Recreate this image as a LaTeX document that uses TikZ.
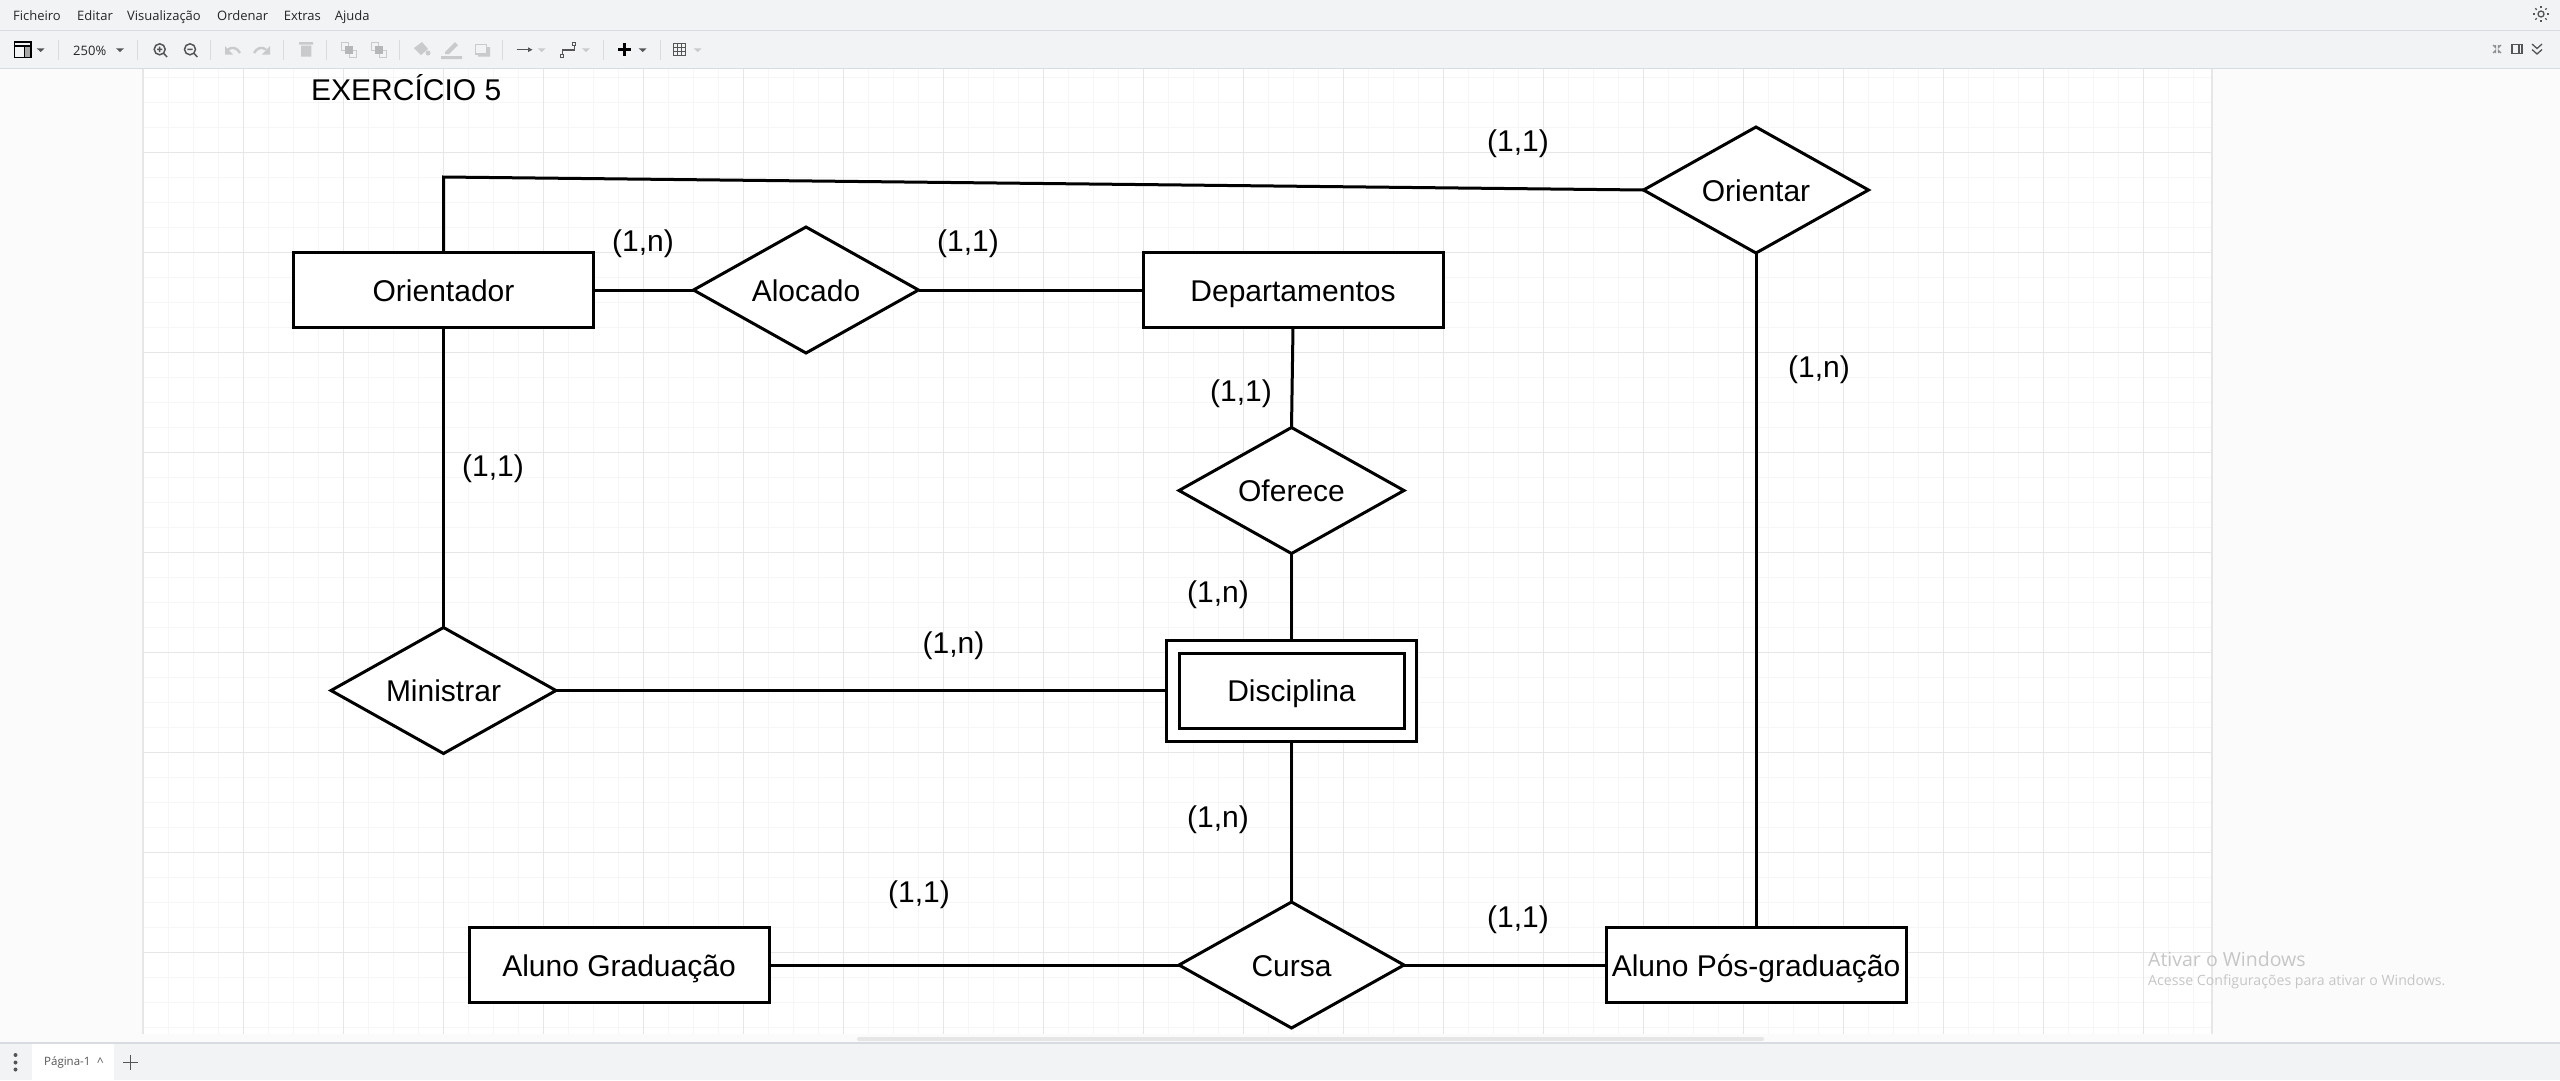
\documentclass[tikz,border=0pt]{standalone}
\usepackage{fontspec}
\setmainfont{Liberation Sans}
\newfontfamily\uifont{Open Sans}
\usetikzlibrary{shapes.geometric}
\definecolor{barbg}{HTML}{F1F3F5}
\definecolor{barline}{HTML}{D8DBDF}
\definecolor{panelbg}{HTML}{FBFBFB}
\definecolor{gridmaj}{HTML}{E6E6E6}
\definecolor{gridmin}{HTML}{F6F6F6}
\definecolor{icondark}{HTML}{555555}
\definecolor{iconoff}{HTML}{C8CACC}
\definecolor{wmark}{HTML}{C6C6C6}
\tikzset{
  bigtext/.style={text height=25.5pt,text depth=3.5pt,font=\fontsize{30}{36}\selectfont},
  entity/.style={draw=black,fill=white,line width=3pt,minimum width=300pt,minimum height=75pt,inner sep=0pt,outer sep=0pt,bigtext},
  relation/.style={draw=black,fill=white,line width=3pt,shape=diamond,shape aspect=1.786,minimum width=225pt,minimum height=126pt,inner sep=0pt,outer sep=0pt,bigtext},
  card/.style={inner sep=0pt,bigtext},
  link/.style={line width=3pt,draw=black},
  menuitem/.style={anchor=west,inner sep=0pt,text=black!85,text height=10pt,text depth=3pt,font=\uifont\fontsize{13}{16}\selectfont},
  sepline/.style={draw=barline,line width=1pt},
  tri/.style={fill=icondark},
  trioff/.style={fill=iconoff}
}
\begin{document}
\begin{tikzpicture}[x=1pt,y=-1pt]
\useasboundingbox (0,0) rectangle (2560,1080);
% chrome
\fill[panelbg] (0,0) rectangle (2560,1080);
\fill[barbg] (0,0) rectangle (2560,68.5);
\draw[barline,line width=1.4pt] (0,30.5) -- (2560,30.5);
\draw[barline,line width=1.4pt] (0,68.5) -- (2560,68.5);
% canvas
\fill[white] (143,69) rectangle (2211,1034);
\begin{scope}
\clip (143,69) rectangle (2211,1034);
\foreach \k in {0,...,88}{\draw[gridmin,line width=1pt] ({43.5+25*\k},69) -- ({43.5+25*\k},1034);}
\foreach \k in {0,...,40}{\draw[gridmin,line width=1pt] (143,{52.3+25*\k}) -- (2211,{52.3+25*\k});}
\foreach \k in {1,...,21}{\draw[gridmaj,line width=1pt] ({43.5+100*\k},69) -- ({43.5+100*\k},1034);}
\foreach \k in {1,...,9}{\draw[gridmaj,line width=1pt] (143,{52.3+100*\k}) -- (2211,{52.3+100*\k});}
\end{scope}
\draw[gridmaj,line width=1.4pt] (142.5,69) -- (142.5,1034);
\draw[gridmaj,line width=1.4pt] (2212,69) -- (2212,1034);
% scrollbar and bottom bar
\fill[gridmaj,rounded corners=2pt] (857,1037) rectangle (1764,1041);
\fill[barbg] (0,1043) rectangle (2560,1080);
\draw[barline,line width=1.2pt] (0,1043) -- (2560,1043);
\fill[white] (31.6,1044) rectangle (114,1080);
\fill[icondark] (15.5,1055) circle (2pt) (15.5,1062.5) circle (2pt) (15.5,1069.5) circle (2pt);
\node[anchor=west,inner sep=0pt,text=icondark,font=\uifont\fontsize{11.5}{14}\selectfont] (tabname) at (44,1062.5) {Página-1};
\node[anchor=west,inner sep=0pt,text=icondark,font=\uifont\fontsize{12}{14}\selectfont] (tabcaret) at (97,1062.5) {\^{}};
\draw[icondark,line width=1.5pt] (123,1062.5) -- (138,1062.5) (130.5,1055) -- (130.5,1070);
% menu
\node[menuitem] (mFicheiro) at (13,16.7) {Ficheiro};
\node[menuitem] (mEditar) at (77,16.7) {Editar};
\node[menuitem] (mVis) at (127,16.7) {Visualização};
\node[menuitem] (mOrd) at (217,16.7) {Ordenar};
\node[menuitem] (mExt) at (283.6,16.7) {Extras};
\node[menuitem] (mAju) at (334.7,16.7) {Ajuda};
% toolbar separators
\foreach \s in {58.3,137,210.7,283.6,326.6,399.3,502.7,603.3,660.3}{\draw[sepline] (\s,40) -- (\s,59.5);}
% layout icon
\fill[gray!70] (24.5,46) rectangle (31,57.5);
\draw[black,line width=1.3pt] (14.5,42) rectangle (31,57.5);
\draw[black,line width=1.1pt] (14.5,46) -- (31,46) (24.5,46) -- (24.5,57.5);
\fill[tri] (36.7,48.3) -- (44.7,48.3) -- (40.7,52) -- cycle;
\node[menuitem] (zoomlevel) at (73,52) {250\%};
\fill[tri] (116,48.3) -- (124,48.3) -- (120,52) -- cycle;
% zoom icons
\draw[icondark,line width=1.5pt] (159.7,49.3) circle (5.5pt) (163.7,53.3) -- (167,57) (157,49.3) -- (162.4,49.3) (159.7,46.6) -- (159.7,52);
\draw[icondark,line width=1.5pt] (190,49.3) circle (5.5pt) (194,53.3) -- (197.3,57) (187.3,49.3) -- (192.7,49.3);
% undo, redo, delete
\draw[iconoff,line width=2.4pt] (228,49.5) .. controls (232,46.5) and (237,47.5) .. (240,53);
\fill[iconoff] (225,54.5) -- (225,46) -- (233,54.5) -- cycle;
\draw[iconoff,line width=2.4pt] (266,49.5) .. controls (262,46.5) and (257,47.5) .. (254,53);
\fill[iconoff] (270,54.5) -- (270,46) -- (262,54.5) -- cycle;
\fill[iconoff] (301,45.7) rectangle (311.3,56.7) (299,42) rectangle (313,44.7);
% front, back
\draw[iconoff,line width=1pt] (341,42.5) rectangle (348,50) (349,50) rectangle (356,57);
\fill[iconoff!90!black] (345,46) rectangle (352.7,54);
\draw[iconoff,line width=1pt] (371,42.5) rectangle (378,50) (379,50) rectangle (386,57);
\fill[iconoff!90!black] (375,46) rectangle (382.7,54);
% fill, line, shadow
\fill[iconoff] (414,48) -- (422,42) -- (428,49) -- (421,55) -- cycle;
\fill[iconoff] (428,53) circle (2.5pt);
\fill[iconoff] (445,52) -- (455,42) -- (458,45) -- (449,54) -- (445,54) -- cycle (441,56) rectangle (462,59);
\draw[iconoff,line width=1.4pt] (475.5,44.5) rectangle (486.5,54);
\fill[iconoff] (478,54.5) rectangle (490,56.7) (487,47) rectangle (490,56.7);
% connection, waypoints
\draw[icondark,line width=1.2pt] (516.7,49.7) -- (530,49.7);
\fill[icondark] (532.5,49.7) -- (528,47.3) -- (528,52.1) -- cycle;
\fill[trioff] (537.7,48.3) -- (545.7,48.3) -- (541.7,52) -- cycle;
\draw[icondark,line width=1.1pt] (562.3,55) -- (562.3,50) -- (574.3,50) -- (574.3,45);
\draw[icondark,line width=1pt,fill=barbg] (560.8,54.5) rectangle (563.8,57.5) (572.8,42.8) rectangle (575.8,45.8);
\fill[trioff] (582,48.3) -- (590,48.3) -- (586,52) -- cycle;
% plus
\draw[black,line width=3.3pt] (618,49.7) -- (631,49.7) (624.5,43.3) -- (624.5,55.7);
\fill[tri] (638.7,48.3) -- (646.7,48.3) -- (642.7,52) -- cycle;
% table
\draw[icondark,line width=1pt] (673.3,43.3) rectangle (685.3,55.7)
  (677.3,43.3) -- (677.3,55.7) (681.3,43.3) -- (681.3,55.7) (673.3,47.4) -- (685.3,47.4) (673.3,51.5) -- (685.3,51.5);
\fill[trioff] (693.7,48.3) -- (701.7,48.3) -- (697.7,52) -- cycle;
% right icons
\draw[icondark,line width=1.3pt] (2541,14) circle (3pt);
\foreach \a in {0,45,...,315}{\draw[icondark,line width=1.2pt] ({2541+6*cos(\a)},{14+6*sin(\a)}) -- ({2541+8*cos(\a)},{14+8*sin(\a)});}
\draw[iconoff!70!black,line width=1.3pt] (2493,45) -- (2495.5,47.5) -- (2495.5,45) (2501,45) -- (2498.5,47.5) -- (2498.5,45) (2493,53) -- (2495.5,50.5) -- (2495.5,53) (2501,53) -- (2498.5,50.5) -- (2498.5,53);
\draw[icondark,line width=1.3pt] (2512,44.5) rectangle (2522,53.5) (2519,44.5) -- (2519,53.5);
\draw[icondark,line width=1.3pt] (2532,44) -- (2537,48.5) -- (2542,44) (2532,49.5) -- (2537,54) -- (2542,49.5);
% watermark
\node[anchor=west,inner sep=0pt,text=wmark,font=\uifont\fontsize{19.5}{24}\selectfont] (wm1) at (2148,959) {Ativar o Windows};
\node[anchor=west,inner sep=0pt,text=wmark,font=\uifont\fontsize{14.15}{18}\selectfont] (wm2) at (2148,981.7) {Acesse Configurações para ativar o Windows.};
% title
\node[anchor=west,inner sep=0pt,bigtext] (title) at (311,89.5) {EXERCÍCIO 5};
% entities
\node[entity] (orientador) at (443.5,290) {Orientador};
\node[entity] (departamentos) at (1293,290) {Departamentos};
\node[entity] (graduacao) at (619,965) {Aluno Graduação};
\node[entity] (posgrad) at (1756,965) {Aluno Pós-graduação};
% weak entity
\node[entity,minimum width=250pt,minimum height=101pt] (disciplinaout) at (1291.5,690.5) {};
\node[entity,minimum width=225pt,minimum height=75pt] (disciplina) at (1291.5,690.5) {Disciplina};
% relations
\node[relation] (alocado) at (806,290) {Alocado};
\node[relation] (orientar) at (1756,190) {Orientar};
\node[relation] (oferece) at (1291.5,490.5) {Oferece};
\node[relation] (ministrar) at (443.5,690.5) {Ministrar};
\node[relation] (cursa) at (1291.5,965) {Cursa};
% connectors
\coordinate (bend) at (443.5,177);
\draw[link] (orientador.north) -- (bend) -- (orientar.west);
\draw[link] (orientador.east) -- (alocado.west);
\draw[link] (alocado.east) -- (departamentos.west);
\draw[link] (orientador.south) -- (ministrar.north);
\draw[link] (departamentos.south) -- (oferece.north);
\draw[link] (oferece.south) -- (disciplinaout.north);
\draw[link] (ministrar.east) -- (disciplinaout.west);
\draw[link] (disciplinaout.south) -- (cursa.north);
\draw[link] (graduacao.east) -- (cursa.west);
\draw[link] (cursa.east) -- (posgrad.west);
\draw[link] (orientar.south) -- (posgrad.north);
% cardinalities
\node[card] (c1) at (643,240) {(1,n)};
\node[card] (c2) at (968,240) {(1,1)};
\node[card] (c3) at (1518,140) {(1,1)};
\node[card] (c4) at (1819,366) {(1,n)};
\node[card] (c5) at (1241,390) {(1,1)};
\node[card] (c6) at (493,465) {(1,1)};
\node[card] (c7) at (1218,591) {(1,n)};
\node[card] (c8) at (953.5,642) {(1,n)};
\node[card] (c9) at (1218,816) {(1,n)};
\node[card] (c10) at (919,891) {(1,1)};
\node[card] (c11) at (1518,916) {(1,1)};
\end{tikzpicture}
\end{document}
